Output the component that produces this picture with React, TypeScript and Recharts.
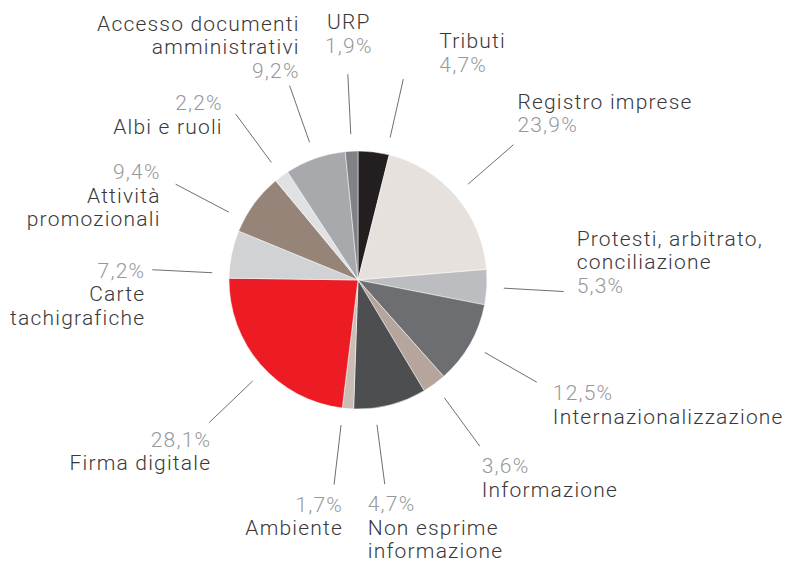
import React from "react";
import { PieChart, Pie, Cell } from "recharts";

// Categories, clockwise from 12 o'clock ("\n" marks the label line breaks)
const categories = [
  "Tributi",
  "Registro imprese",
  "Protesti, arbitrato,\nconciliazione",
  "Internazionalizzazione",
  "Informazione",
  "Non esprime\ninformazione",
  "Ambiente",
  "Firma digitale",
  "Carte\ntachigrafiche",
  "Attività\npromozionali",
  "Albi e ruoli",
  "Accesso documenti\namministrativi",
  "URP",
];

// Percent labels as printed
const percentLabels = [
  "4,7%", "23,9%", "5,3%", "12,5%", "3,6%", "4,7%", "1,7%",
  "28,1%", "7,2%", "9,4%", "2,2%", "9,2%", "1,9%",
];

// Slice sizes (the "Non esprime informazione" slice is drawn larger than its label)
const sliceValues = [4.7, 23.9, 5.3, 12.5, 3.6, 11.0, 1.7, 28.1, 7.2, 9.4, 2.2, 9.2, 1.9];

const sliceColors = [
  "#231f20", "#e6e1dd", "#bcbdc0", "#6d6e71", "#b5a59c", "#4d4e50", "#c9bdb6",
  "#ed1c24", "#d1d2d4", "#978479", "#e0e1e2", "#a7a9ac", "#808285",
];

const data = categories.map((name, i) => ({ name, value: sliceValues[i] }));

// Label layout: rot = clockwise shift of the leader line from the slice middle (deg),
// dx/dy = text offset from the outer end of the leader line, anchor, pctFirst
const labelLayout = [
  { rot: 5.7, dx: 36, dy: -31, anchor: "start", pctFirst: false },
  { rot: -0.7, dx: 4, dy: -36, anchor: "start", pctFirst: false },
  { rot: 0, dx: 13, dy: -46, anchor: "start", pctFirst: false },
  { rot: 0, dx: 16, dy: 18, anchor: "start", pctFirst: true },
  { rot: 0, dx: 2, dy: 27, anchor: "start", pctFirst: true },
  { rot: 7, dx: -17, dy: 27, anchor: "start", pctFirst: true },
  { rot: 2.2, dx: 9, dy: 27, anchor: "end", pctFirst: true },
  { rot: -2.7, dx: 2, dy: 24, anchor: "end", pctFirst: true },
  { rot: -8.7, dx: -7, dy: 8, anchor: "end", pctFirst: true },
  { rot: -8.6, dx: -15, dy: -5, anchor: "end", pctFirst: true },
  { rot: 0, dx: -13, dy: -4, anchor: "end", pctFirst: true },
  { rot: 0, dx: 10, dy: -55, anchor: "end", pctFirst: false },
  { rot: 0, dx: 1, dy: -45, anchor: "middle", pctFirst: false },
];

const RAD = Math.PI / 180;
const NAME_COLOR = "#3a3839";
const PCT_COLOR = "#97989b";
const LINE_GAP = 23.5;

function renderLabel(props: any) {
  const { cx, cy, midAngle, outerRadius, index } = props;
  const L = labelLayout[index];
  const a = (midAngle - L.rot) * RAD;
  const r1 = outerRadius + 17;
  const r2 = outerRadius + 77;
  const x1 = cx + r1 * Math.cos(a);
  const y1 = cy - r1 * Math.sin(a);
  const x2 = cx + r2 * Math.cos(a);
  const y2 = cy - r2 * Math.sin(a);
  const names = categories[index].split("\n").map((t) => ({ t, c: NAME_COLOR }));
  const pct = { t: percentLabels[index], c: PCT_COLOR };
  const lines = L.pctFirst ? [pct, ...names] : [...names, pct];
  const tx = x2 + L.dx;
  return (
    <g key={`lbl-${index}`}>
      <line x1={x1} y1={y1} x2={x2} y2={y2} stroke="#4a4a4a" strokeWidth={0.8} />
      <text
        x={tx}
        y={y2 + L.dy}
        textAnchor={L.anchor}
        fontFamily="Roboto, 'Noto Sans', sans-serif"
        fontWeight={300}
        fontSize={21}
        letterSpacing={1.2}
      >
        {lines.map((ln, k) => (
          <tspan key={k} x={tx} dy={k === 0 ? 0 : LINE_GAP} fill={ln.c}>
            {ln.t}
          </tspan>
        ))}
      </text>
    </g>
  );
}

export default function App() {
  return (
    <div style={{ position: "absolute", left: 0, top: 0, width: 790, height: 564, background: "#fff" }}>
      <PieChart width={790} height={564} margin={{ top: 0, right: 0, bottom: 0, left: 0 }}>
        <Pie
          data={data}
          dataKey="value"
          nameKey="name"
          cx={358}
          cy={280}
          outerRadius={129}
          startAngle={90}
          endAngle={-270}
          stroke="#ffffff"
          strokeWidth={0.5}
          label={renderLabel}
          labelLine={false}
          isAnimationActive={false}
        >
          {data.map((d, i) => (
            <Cell key={d.name} fill={sliceColors[i]} />
          ))}
        </Pie>
      </PieChart>
    </div>
  );
}
